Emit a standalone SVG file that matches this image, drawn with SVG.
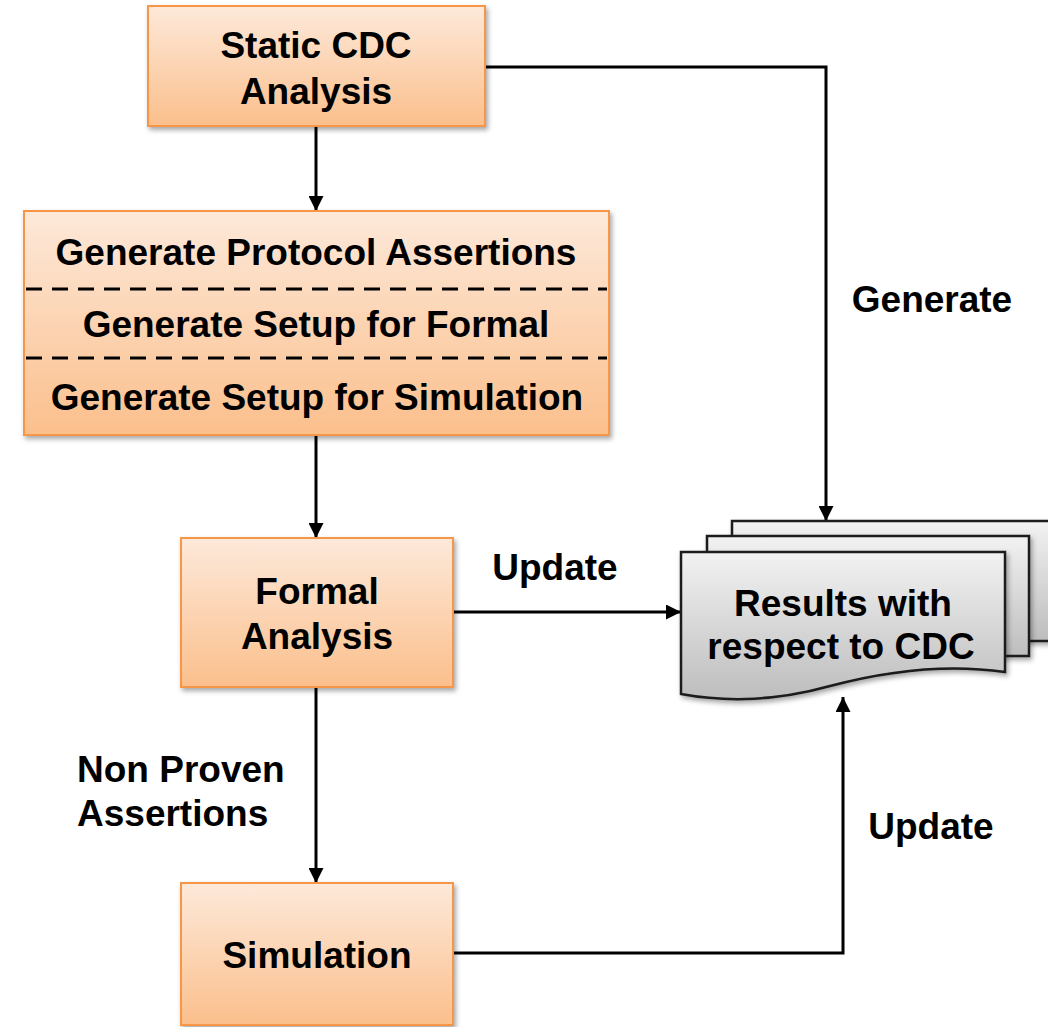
<svg xmlns="http://www.w3.org/2000/svg" width="1048" height="1027" viewBox="0 0 1048 1027">
  <defs>
    <linearGradient id="gOrange" x1="0" y1="0" x2="0" y2="1">
      <stop offset="0" stop-color="#fde9da"/>
      <stop offset="1" stop-color="#fbbf8c"/>
    </linearGradient>
    <linearGradient id="gGray" x1="0" y1="0" x2="0" y2="1">
      <stop offset="0" stop-color="#f2f2f2"/>
      <stop offset="1" stop-color="#bdbdbd"/>
    </linearGradient>
    <filter id="shadow" x="-10%" y="-10%" width="125%" height="130%">
      <feDropShadow dx="2" dy="3" stdDeviation="2.5" flood-color="#000" flood-opacity="0.35"/>
    </filter>
    <marker id="arrow" viewBox="0 0 10 10" refX="10" refY="5" markerWidth="5" markerHeight="5" orient="auto" markerUnits="strokeWidth">
      <path d="M0,0 L10,5 L0,10 Z" fill="#000"/>
    </marker>
    <style>
      .box { fill: url(#gOrange); stroke: #f79646; stroke-width: 2; filter: url(#shadow); }
      .doc { fill: url(#gGray); stroke: #1a1a1a; stroke-width: 2.5; filter: url(#shadow); }
      .t { font-family: "Liberation Sans", Arial, sans-serif; font-weight: bold; font-size: 37px; fill: #000; }
      .c { text-anchor: middle; }
      .edge { fill: none; stroke: #000; stroke-width: 3; marker-end: url(#arrow); }
      .sep { stroke: #000; stroke-width: 3; stroke-dasharray: 16 10; }
    </style>
  </defs>

  <!-- connectors -->
  <g id="connectors">
    <path class="edge" d="M316,126 V211"/>
    <path class="edge" d="M485,67 H826 V521"/>
    <path class="edge" d="M316,435 V538"/>
    <path class="edge" d="M453,612 H681"/>
    <path class="edge" d="M316,687 V883"/>
    <path class="edge" d="M453,953 H843 V697"/>
  </g>

  <g id="static-cdc">
    <rect class="box" x="148" y="6" width="337" height="120"/>
    <text class="t c" x="316" y="58">Static CDC</text>
    <text class="t c" x="316" y="104">Analysis</text>
  </g>

  <g id="generate">
    <rect class="box" x="24" y="211" width="585" height="224"/>
    <line class="sep" x1="26" y1="289" x2="607" y2="289"/>
    <line class="sep" x1="26" y1="358" x2="607" y2="358"/>
    <text class="t c" x="316" y="265">Generate Protocol Assertions</text>
    <text class="t c" x="316" y="337">Generate Setup for Formal</text>
    <text class="t c" x="317" y="410">Generate Setup for Simulation</text>
  </g>

  <g id="formal">
    <rect class="box" x="181" y="538" width="272" height="149"/>
    <text class="t c" x="317" y="604">Formal</text>
    <text class="t c" x="317" y="649">Analysis</text>
  </g>

  <g id="simulation">
    <rect class="box" x="181" y="883" width="272" height="142"/>
    <text class="t c" x="317" y="968">Simulation</text>
  </g>

  <g id="results">
    <rect class="doc" x="732" y="521" width="330" height="120"/>
    <rect class="doc" x="707" y="536" width="322" height="120"/>
    <path class="doc" d="M681,552 H1005 V672 C950,664 890,670 830,686 C780,700 730,703 681,694 Z"/>
    <text class="t c" x="843" y="616">Results with</text>
    <text class="t c" x="841" y="659">respect to CDC</text>
  </g>

  <g id="labels">
    <text class="t c" x="932" y="312">Generate</text>
    <text class="t c" x="555" y="580">Update</text>
    <text class="t" x="77" y="782">Non Proven</text>
    <text class="t" x="77" y="826">Assertions</text>
    <text class="t c" x="931" y="839">Update</text>
  </g>
</svg>
